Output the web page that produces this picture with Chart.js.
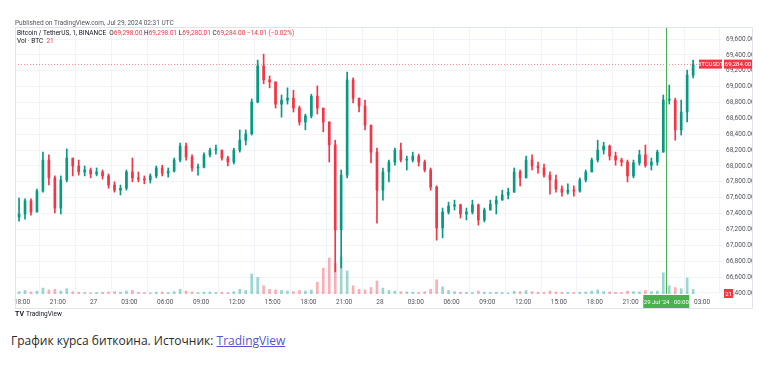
<!DOCTYPE html>
<html>
<head>
<meta charset="utf-8">
<script src="https://cdn.jsdelivr.net/npm/chart.js@4.4.1/dist/chart.umd.min.js"></script>
<style>
    html, body { margin: 0; padding: 0; background: #fff; }
    #wrap { position: absolute; left: 0; top: 0; width: 762px; height: 322px; }
    .caption { position: absolute; left: 11px; top: 332px; margin: 0; font: 12px 'Open Sans', sans-serif; color: #2b2b2b; }
    .caption a { color: #5454d4; }
</style>
</head>
<body>
<div id="wrap"><canvas id="btcChart" width="762" height="322"></canvas></div>
<p class="caption">График курса биткоина. Источник: <a href="#">TradingView</a></p>
<script>
// 30-minute candles, hours counted from 26 Jul 2024 00:00 UTC
const candleStart = 17.5;
const candleStep = 0.5;
const firstOpen = 67355;

const closes = [
    67395, 67560, 67420, 67685, 68075, 67850, 67470, 67825, 68100, 68000,
    67925, 67950, 67900, 67925, 67875, 67760, 67695, 67720, 67925, 67850,
    67835, 67825, 67875, 67975, 67910, 67935, 68075, 68250, 68115, 67975,
    67985, 68140, 68200, 68200, 68100, 68050, 68200, 68325, 68405, 68805,
    69260, 69085, 69060, 68780, 68830, 68855, 68730, 68555, 68630, 68880,
    68730, 68555, 68265, 67195, 67885, 69085, 68855, 68755, 68515, 68175,
    67695, 67925, 68050, 68200, 68075, 68075, 68125, 68050, 67950, 67735,
    67220, 67420, 67495, 67510, 67395, 67420, 67510, 67320, 67445, 67520,
    67570, 67635, 67670, 67925, 67850, 68075, 68000, 67975, 67885, 67825,
    67710, 67670, 67695, 67685, 67825, 67925, 68075, 68200, 68250, 68125,
    68075, 68050, 67875, 68040, 68140, 68010, 68050, 68175, 68830, 68830,
    68455, 68680, 69145, 69284
];
const highs = [
    67595, 67585, 67585, 67710, 68175, 68140, 67875, 67875, 68215, 68075,
    68075, 68000, 67975, 67975, 67950, 67900, 67800, 67760, 67950, 68100,
    67925, 67875, 67900, 68000, 68010, 67975, 68100, 68290, 68290, 68140,
    68025, 68165, 68225, 68265, 68200, 68125, 68225, 68455, 68455, 68845,
    69335, 69410, 69135, 69060, 68895, 68985, 68955, 68755, 68655, 68905,
    69010, 68640, 68455, 68325, 67950, 69185, 69110, 68855, 68830, 68480,
    68225, 67975, 68075, 68225, 68290, 68125, 68175, 68150, 68075, 67975,
    67750, 67470, 67545, 67570, 67520, 67470, 67570, 67520, 67470, 67570,
    67620, 67695, 67720, 67975, 67950, 68125, 68140, 68050, 68025, 67925,
    67885, 67750, 67775, 67750, 67850, 67950, 68100, 68325, 68300, 68265,
    68175, 68100, 68075, 68075, 68200, 68265, 68100, 68200, 68895, 69020,
    68855, 68830, 69210, 69335
];
const lows = [
    67305, 67330, 67380, 67445, 67670, 67760, 67410, 67395, 67800, 67875,
    67885, 67875, 67850, 67875, 67835, 67720, 67670, 67635, 67695, 67800,
    67800, 67775, 67785, 67850, 67875, 67860, 67925, 68050, 68075, 67935,
    67885, 67975, 68115, 68150, 68075, 68000, 68025, 68175, 68265, 68390,
    68795, 69035, 68985, 68730, 68615, 68780, 68680, 68515, 68455, 68605,
    68655, 68430, 68050, 66665, 66715, 67850, 68795, 68680, 68455, 68040,
    67280, 67570, 67800, 68010, 68050, 67950, 68050, 68000, 67925, 67695,
    67065, 67095, 67395, 67445, 67345, 67320, 67395, 67255, 67295, 67445,
    67395, 67570, 67585, 67720, 67750, 67875, 67950, 67910, 67860, 67645,
    67670, 67620, 67645, 67620, 67670, 67800, 67950, 68050, 68150, 68075,
    68010, 68000, 67800, 67850, 68010, 67985, 67950, 68010, 68175, 68780,
    68325, 68390, 68555, 69110
];
const volumes = [
    400, 600, 350, 500, 1000, 700, 800, 500, 900, 400,
    300, 250, 200, 250, 300, 350, 400, 300, 500, 600,
    300, 250, 200, 300, 350, 250, 400, 800, 500, 350,
    250, 300, 350, 250, 300, 250, 400, 800, 600, 3400,
    2800, 1400, 800, 700, 600, 500, 400, 600, 500, 700,
    2000, 4400, 6100, 5200, 6300, 3900, 1400, 800, 700, 1100,
    2200, 1000, 600, 500, 400, 350, 300, 250, 400, 800,
    2400, 1200, 600, 400, 300, 300, 250, 500, 300, 250,
    300, 250, 200, 500, 400, 600, 400, 300, 250, 500,
    350, 300, 250, 250, 300, 350, 500, 700, 400, 350,
    300, 250, 500, 400, 350, 600, 400, 500, 3600, 1400,
    1100, 900, 2700, 800
];

const priceTicks = [66400, 66600, 66800, 67000, 67200, 67400, 67600, 67800, 68000,
                    68200, 68400, 68600, 68800, 69000, 69200, 69400, 69600];
const timeTicks = [18, 21, 24, 27, 30, 33, 36, 39, 42, 45, 48, 51, 54, 57, 60, 63, 66, 69, 72, 75];
const timeLabels = ['18:00', '21:00', '27', '03:00', '06:00', '09:00', '12:00', '15:00', '18:00', '21:00',
                    '28', '03:00', '06:00', '09:00', '12:00', '15:00', '18:00', '21:00', '29', '03:00'];

const lastPrice = 69284;
const lastVolume = 21;
const cursorHour = 72;

const upColor = '#089981';
const downColor = '#f23645';
const tvFont = 'Roboto, "Liberation Sans", sans-serif';

const opens = closes.map((c, i) => i === 0 ? firstOpen : closes[i - 1]);
const times = closes.map((c, i) => candleStart + i * candleStep + candleStep / 2);
const isUp = closes.map((c, i) => c >= opens[i]);

const fmt = v => v.toLocaleString('en-US', { minimumFractionDigits: 2, maximumFractionDigits: 2 });

const label = (ctx, text, x, y, w, h, bg) => {
    ctx.fillStyle = bg;
    ctx.fillRect(x, y, w, h);
    ctx.fillStyle = '#fff';
    ctx.textAlign = 'center';
    ctx.textBaseline = 'middle';
    ctx.fillText(text, x + w / 2, y + h / 2 + 0.5);
};

const decor = {
    id: 'decor',
    beforeDraw(chart) {
        const { ctx } = chart;
        ctx.save();
        ctx.fillStyle = '#fff';
        ctx.fillRect(0, 0, chart.width, chart.height);
        ctx.restore();
    },
    beforeDatasetsDraw(chart) {
        const { ctx, chartArea: a, scales: { y } } = chart;
        const py = Math.round(y.getPixelForValue(lastPrice)) + 0.5;
        ctx.save();
        ctx.strokeStyle = 'rgba(242, 54, 69, 0.55)';
        ctx.setLineDash([1, 2]);
        ctx.beginPath();
        ctx.moveTo(a.left, py);
        ctx.lineTo(a.right, py);
        ctx.stroke();
        ctx.restore();
    },
    afterDatasetsDraw(chart) {
        const { ctx, chartArea: a, scales: { x } } = chart;
        const cx = Math.round(x.getPixelForValue(cursorHour)) + 0.5;
        ctx.save();
        ctx.strokeStyle = '#4caf50';
        ctx.lineWidth = 1;
        ctx.beginPath();
        ctx.moveTo(cx, a.top);
        ctx.lineTo(cx, a.bottom);
        ctx.stroke();
        ctx.restore();
    },
    afterDraw(chart) {
        const { ctx, chartArea: a, scales: { x, y } } = chart;
        ctx.save();

        // outer frame
        ctx.strokeStyle = '#e0e3eb';
        ctx.lineWidth = 1;
        ctx.strokeRect(15.5, 27.5, 737, 281);

        ctx.font = '6px ' + tvFont;

        // last price labels
        const py = y.getPixelForValue(lastPrice);
        label(ctx, 'BTCUSDT', a.right - 23, py - 4.5, 23, 9, downColor);
        label(ctx, fmt(lastPrice), a.right + 2, py - 4.5, 28, 9, downColor);

        // volume label
        label(ctx, String(lastVolume), a.right + 2, a.bottom - 5, 9, 9, downColor);

        // crosshair time label
        const cx = x.getPixelForValue(cursorHour);
        label(ctx, "29 Jul '24   00:00", cx - 23, a.bottom + 1, 46, 13, '#4caf50');

        // header texts
        ctx.font = '6.5px ' + tvFont;
        ctx.textAlign = 'left';
        ctx.textBaseline = 'middle';
        ctx.fillStyle = '#50535e';
        ctx.fillText('Published on TradingView.com, Jul 29, 2024 02:31 UTC', 15, 23);

        let tx = 17;
        const seg = (text, color) => {
            ctx.fillStyle = color;
            ctx.fillText(text, tx, 33);
            tx += ctx.measureText(text).width;
        };
        seg('Bitcoin / TetherUS, 1, BINANCE  ', '#131722');
        seg('O', '#131722'); seg('69,298.00 ', downColor);
        seg('H', '#131722'); seg('69,298.01 ', downColor);
        seg('L', '#131722'); seg('69,280.01 ', downColor);
        seg('C', '#131722'); seg('69,284.00 ', downColor);
        seg('\u221214.01 (\u22120.02%)', downColor);

        ctx.fillStyle = '#131722';
        ctx.fillText('Vol \u00b7 BTC', 17, 41);
        const vw = ctx.measureText('Vol \u00b7 BTC  ').width;
        ctx.fillStyle = downColor;
        ctx.fillText(String(lastVolume), 17 + vw, 41);

        // TradingView mark
        ctx.fillStyle = '#131722';
        ctx.font = 'bold 7px ' + tvFont;
        ctx.fillText('TV', 15, 314);
        ctx.font = '6.5px ' + tvFont;
        ctx.fillText('TradingView', 26, 314);

        ctx.restore();
    }
};

new Chart(document.getElementById('btcChart'), {
    type: 'bar',
    data: {
        datasets: [
            {
                label: 'Body',
                data: times.map((t, i) => ({ x: t, y: [opens[i], closes[i]] })),
                backgroundColor: isUp.map(u => u ? upColor : downColor),
                barThickness: 2,
                minBarLength: 1,
                grouped: false,
                order: 1
            },
            {
                label: 'Wick',
                data: times.map((t, i) => ({
                    x: t,
                    y: [Math.min(lows[i], opens[i], closes[i]), Math.max(highs[i], opens[i], closes[i])]
                })),
                backgroundColor: isUp.map(u => u ? upColor : downColor),
                barThickness: 1,
                grouped: false,
                order: 2
            },
            {
                label: 'Vol',
                yAxisID: 'yVol',
                data: times.map((t, i) => ({ x: t, y: volumes[i] })),
                backgroundColor: isUp.map(u => u ? 'rgba(8, 153, 129, 0.4)' : 'rgba(242, 54, 69, 0.4)'),
                barThickness: 2,
                grouped: false,
                order: 3
            }
        ]
    },
    options: {
        responsive: false,
        animation: false,
        layout: { padding: { left: 15, top: 28, right: 10, bottom: 14 } },
        plugins: { legend: { display: false }, tooltip: { enabled: false } },
        scales: {
            x: {
                type: 'linear',
                min: 17.41,
                max: 76.67,
                offset: false,
                afterBuildTicks: s => { s.ticks = timeTicks.map(v => ({ value: v })); },
                afterFit: s => { s.height = 14; },
                ticks: {
                    callback: v => timeLabels[timeTicks.indexOf(v)],
                    autoSkip: false,
                    maxRotation: 0,
                    padding: 4,
                    color: '#50535e',
                    font: { size: 6.5, family: tvFont }
                },
                grid: { color: '#f0f3fa', drawTicks: false },
                border: { display: false }
            },
            y: {
                position: 'right',
                min: 66387,
                max: 69739,
                afterBuildTicks: s => { s.ticks = priceTicks.map(v => ({ value: v })); },
                afterFit: s => { s.width = 30; },
                ticks: {
                    callback: v => fmt(v),
                    padding: 4,
                    color: '#50535e',
                    font: { size: 6.5, family: tvFont }
                },
                grid: { color: '#f0f3fa', drawTicks: false },
                border: { display: false }
            },
            yVol: {
                display: false,
                min: 0,
                max: 45000
            }
        }
    },
    plugins: [decor]
});
</script>
</body>
</html>
